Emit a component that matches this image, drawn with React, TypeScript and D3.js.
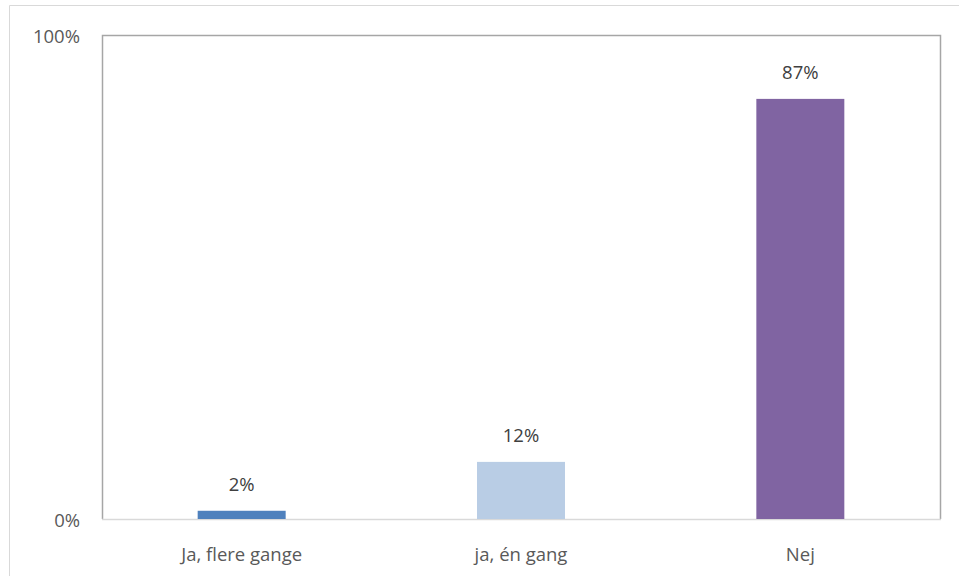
import React from 'react';
import * as d3 from 'd3';

const width = 959;
const height = 576;
const margin = { top: 35, right: 19, bottom: 57, left: 102 };

const categories: string[] = ['Ja, flere gange', 'ja, én gang', 'Nej'];
const values: number[] = [1.7, 11.8, 86.8];
const valueLabels: string[] = ['2%', '12%', '87%'];
const colors: string[] = ['#4f81bd', '#b9cde5', '#8064a2'];
const yTicks: number[] = [0, 100];

const font = '"Open Sans", "Liberation Sans", sans-serif';
const fontSize = 18.5;

const App = () => {
    const innerW = width - margin.left - margin.right;
    const innerH = height - margin.top - margin.bottom;

    const x = d3.scaleBand<string>()
        .domain(categories)
        .range([margin.left, margin.left + innerW])
        .paddingInner(0.685)
        .paddingOuter(0.3425);

    const y = d3.scaleLinear()
        .domain([0, 100])
        .range([margin.top + innerH, margin.top]);

    const x0 = margin.left;
    const x1 = margin.left + innerW;
    const yTop = y(100);
    const yBot = y(0);

    return (
        <svg width={width} height={height} style={{ position: 'absolute', left: 0, top: 0, background: '#fff' }}>
            {/* outer chart frame */}
            <line x1={9.5} y1={5.5} x2={width} y2={5.5} stroke="#d9d9d9" strokeWidth={1} />
            <line x1={9.5} y1={5.5} x2={9.5} y2={height} stroke="#d9d9d9" strokeWidth={1} />

            {/* plot area border */}
            <path
                d={`M${x0 + 0.5},${yBot} V${yTop + 0.5} H${x1 + 0.5} V${yBot}`}
                fill="none"
                stroke="#a6a6a6"
                strokeWidth={1.5}
            />
            <line x1={x0} y1={yBot + 0.5} x2={x1 + 1} y2={yBot + 0.5} stroke="#d9d9d9" strokeWidth={1.5} />

            {yTicks.map(t => (
                <text
                    key={t}
                    x={80}
                    y={y(t) + 2}
                    dy="0.35em"
                    textAnchor="end"
                    fontFamily={font}
                    fontSize={fontSize}
                    fill="#595959"
                >
                    {t}%
                </text>
            ))}

            {categories.map((c, i) => {
                const bx = x(c) as number;
                const bw = x.bandwidth();
                const top = y(values[i]);
                return (
                    <g key={c}>
                        <rect x={bx} y={top} width={bw} height={yBot - top} fill={colors[i]} />
                        <text
                            x={bx + bw / 2}
                            y={top - 26}
                            dy="0.35em"
                            textAnchor="middle"
                            fontFamily={font}
                            fontSize={fontSize}
                            fill="#404040"
                        >
                            {valueLabels[i]}
                        </text>
                        <text
                            x={bx + bw / 2}
                            y={555}
                            dy="0.35em"
                            textAnchor="middle"
                            fontFamily={font}
                            fontSize={fontSize}
                            fill="#595959"
                        >
                            {c}
                        </text>
                    </g>
                );
            })}
        </svg>
    );
};

export default App;
